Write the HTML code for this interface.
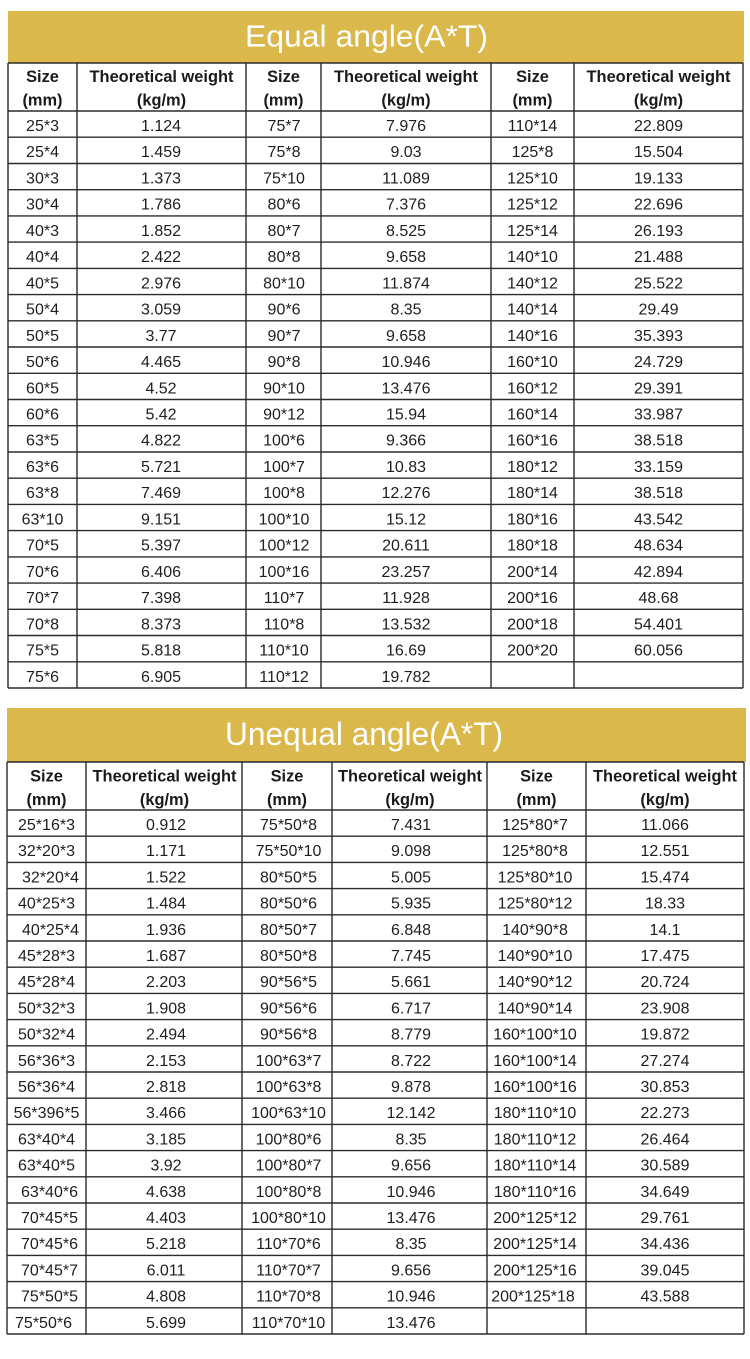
<!DOCTYPE html>
<html>
<head>
<meta charset="utf-8">
<style>
html,body{margin:0;padding:0;background:#fff;}
body{width:750px;height:1359px;overflow:hidden;}
svg{display:block;}
.t{font-family:"Liberation Sans",Arial,sans-serif;font-size:16px;fill:#1e1e1e;}
.h{font-family:"Liberation Sans",Arial,sans-serif;font-size:16.4px;font-weight:bold;fill:#1a1a1a;}
.ttl{font-family:"Liberation Sans",Arial,sans-serif;fill:#fff;}
</style>
</head>
<body>
<svg width="750" height="1359" viewBox="0 0 750 1359" xmlns="http://www.w3.org/2000/svg">
<!-- ===== TABLE 1 ===== -->
<rect x="8" y="11" width="736" height="52" fill="#dbb84b"/>
<text class="ttl" x="245" y="46.7" font-size="31" textLength="243" lengthAdjust="spacingAndGlyphs">Equal angle(A*T)</text>

<g stroke="#2b2b2b" stroke-width="1.4" fill="none">
<path d="M8 63H743M8 111H743M8 137.2H743M8 163.5H743M8 189.7H743M8 215.9H743M8 242.1H743M8 268.4H743M8 294.6H743M8 320.8H743M8 347H743M8 373.3H743M8 399.5H743M8 425.7H743M8 452H743M8 478.2H743M8 504.4H743M8 530.6H743M8 556.9H743M8 583.1H743M8 609.3H743M8 635.5H743M8 661.8H743M8 688H743"/>
<path d="M8 63V688M77 63V688M246 63V688M321 63V688M491 63V688M574 63V688M743 63V688"/>
</g>

<g class="h" text-anchor="middle">
<text x="42.5" y="82">Size</text><text x="42.5" y="105.5">(mm)</text>
<text x="161.5" y="82">Theoretical weight</text><text x="161.5" y="105.5">(kg/m)</text>
<text x="283.5" y="82">Size</text><text x="283.5" y="105.5">(mm)</text>
<text x="406" y="82">Theoretical weight</text><text x="406" y="105.5">(kg/m)</text>
<text x="532.5" y="82">Size</text><text x="532.5" y="105.5">(mm)</text>
<text x="658.5" y="82">Theoretical weight</text><text x="658.5" y="105.5">(kg/m)</text>
</g>

<g class="t" text-anchor="middle">
<g transform="translate(42.5 0)">
<text y="131">25*3</text><text y="157.2">25*4</text><text y="183.5">30*3</text><text y="209.7">30*4</text><text y="235.9">40*3</text><text y="262.1">40*4</text><text y="288.4">40*5</text><text y="314.6">50*4</text><text y="340.8">50*5</text><text y="367">50*6</text><text y="393.3">60*5</text><text y="419.5">60*6</text><text y="445.7">63*5</text><text y="472">63*6</text><text y="498.2">63*8</text><text y="524.4">63*10</text><text y="550.6">70*5</text><text y="576.9">70*6</text><text y="603.1">70*7</text><text y="629.3">70*8</text><text y="655.5">75*5</text><text y="681.8">75*6</text>
</g>
<g transform="translate(161 0)">
<text y="131">1.124</text><text y="157.2">1.459</text><text y="183.5">1.373</text><text y="209.7">1.786</text><text y="235.9">1.852</text><text y="262.1">2.422</text><text y="288.4">2.976</text><text y="314.6">3.059</text><text y="340.8">3.77</text><text y="367">4.465</text><text y="393.3">4.52</text><text y="419.5">5.42</text><text y="445.7">4.822</text><text y="472">5.721</text><text y="498.2">7.469</text><text y="524.4">9.151</text><text y="550.6">5.397</text><text y="576.9">6.406</text><text y="603.1">7.398</text><text y="629.3">8.373</text><text y="655.5">5.818</text><text y="681.8">6.905</text>
</g>
<g transform="translate(284 0)">
<text y="131">75*7</text><text y="157.2">75*8</text><text y="183.5">75*10</text><text y="209.7">80*6</text><text y="235.9">80*7</text><text y="262.1">80*8</text><text y="288.4">80*10</text><text y="314.6">90*6</text><text y="340.8">90*7</text><text y="367">90*8</text><text y="393.3">90*10</text><text y="419.5">90*12</text><text y="445.7">100*6</text><text y="472">100*7</text><text y="498.2">100*8</text><text y="524.4">100*10</text><text y="550.6">100*12</text><text y="576.9">100*16</text><text y="603.1">110*7</text><text y="629.3">110*8</text><text y="655.5">110*10</text><text y="681.8">110*12</text>
</g>
<g transform="translate(406 0)">
<text y="131">7.976</text><text y="157.2">9.03</text><text y="183.5">11.089</text><text y="209.7">7.376</text><text y="235.9">8.525</text><text y="262.1">9.658</text><text y="288.4">11.874</text><text y="314.6">8.35</text><text y="340.8">9.658</text><text y="367">10.946</text><text y="393.3">13.476</text><text y="419.5">15.94</text><text y="445.7">9.366</text><text y="472">10.83</text><text y="498.2">12.276</text><text y="524.4">15.12</text><text y="550.6">20.611</text><text y="576.9">23.257</text><text y="603.1">11.928</text><text y="629.3">13.532</text><text y="655.5">16.69</text><text y="681.8">19.782</text>
</g>
<g transform="translate(532.5 0)">
<text y="131">110*14</text><text y="157.2">125*8</text><text y="183.5">125*10</text><text y="209.7">125*12</text><text y="235.9">125*14</text><text y="262.1">140*10</text><text y="288.4">140*12</text><text y="314.6">140*14</text><text y="340.8">140*16</text><text y="367">160*10</text><text y="393.3">160*12</text><text y="419.5">160*14</text><text y="445.7">160*16</text><text y="472">180*12</text><text y="498.2">180*14</text><text y="524.4">180*16</text><text y="550.6">180*18</text><text y="576.9">200*14</text><text y="603.1">200*16</text><text y="629.3">200*18</text><text y="655.5">200*20</text>
</g>
<g transform="translate(658.5 0)">
<text y="131">22.809</text><text y="157.2">15.504</text><text y="183.5">19.133</text><text y="209.7">22.696</text><text y="235.9">26.193</text><text y="262.1">21.488</text><text y="288.4">25.522</text><text y="314.6">29.49</text><text y="340.8">35.393</text><text y="367">24.729</text><text y="393.3">29.391</text><text y="419.5">33.987</text><text y="445.7">38.518</text><text y="472">33.159</text><text y="498.2">38.518</text><text y="524.4">43.542</text><text y="550.6">48.634</text><text y="576.9">42.894</text><text y="603.1">48.68</text><text y="629.3">54.401</text><text y="655.5">60.056</text>
</g>
</g>

<!-- ===== TABLE 2 ===== -->
<rect x="7" y="708" width="739" height="54" fill="#dbb84b"/>
<text class="ttl" x="225" y="745" font-size="32" textLength="278" lengthAdjust="spacingAndGlyphs">Unequal angle(A*T)</text>

<g stroke="#2b2b2b" stroke-width="1.4" fill="none">
<path d="M7 762H744M7 810H744M7 836.2H744M7 862.4H744M7 888.6H744M7 914.8H744M7 941H744M7 967.2H744M7 993.4H744M7 1019.6H744M7 1045.8H744M7 1072H744M7 1098.2H744M7 1124.4H744M7 1150.6H744M7 1176.8H744M7 1203H744M7 1229.2H744M7 1255.4H744M7 1281.6H744M7 1307.8H744M7 1334H744"/>
<path d="M7 762V1334M86 762V1334M242 762V1334M332 762V1334M487 762V1334M586 762V1334M744 762V1334"/>
</g>

<g class="h" text-anchor="middle">
<text x="46.5" y="781.5">Size</text><text x="46.5" y="805">(mm)</text>
<text x="164.5" y="781.5">Theoretical weight</text><text x="164.5" y="805">(kg/m)</text>
<text x="287" y="781.5">Size</text><text x="287" y="805">(mm)</text>
<text x="410" y="781.5">Theoretical weight</text><text x="410" y="805">(kg/m)</text>
<text x="536.5" y="781.5">Size</text><text x="536.5" y="805">(mm)</text>
<text x="665" y="781.5">Theoretical weight</text><text x="665" y="805">(kg/m)</text>
</g>

<g class="t" text-anchor="middle">
<g transform="translate(46.5 0)">
<text y="830">25*16*3</text><text y="856.2">32*20*3</text><text x="4" y="882.4">32*20*4</text><text y="908.6">40*25*3</text><text x="4" y="934.8">40*25*4</text><text y="961">45*28*3</text><text y="987.2">45*28*4</text><text y="1013.4">50*32*3</text><text y="1039.6">50*32*4</text><text y="1065.8">56*36*3</text><text y="1092">56*36*4</text><text y="1118.2">56*396*5</text><text y="1144.4">63*40*4</text><text y="1170.6">63*40*5</text><text x="3" y="1196.8">63*40*6</text><text x="3" y="1223">70*45*5</text><text x="3" y="1249.2">70*45*6</text><text x="3" y="1275.4">70*45*7</text><text x="3" y="1301.6">75*50*5</text><text x="-3" y="1327.8">75*50*6</text>
</g>
<g transform="translate(166 0)">
<text y="830">0.912</text><text y="856.2">1.171</text><text y="882.4">1.522</text><text y="908.6">1.484</text><text y="934.8">1.936</text><text y="961">1.687</text><text y="987.2">2.203</text><text y="1013.4">1.908</text><text y="1039.6">2.494</text><text y="1065.8">2.153</text><text y="1092">2.818</text><text y="1118.2">3.466</text><text y="1144.4">3.185</text><text y="1170.6">3.92</text><text y="1196.8">4.638</text><text y="1223">4.403</text><text y="1249.2">5.218</text><text y="1275.4">6.011</text><text y="1301.6">4.808</text><text y="1327.8">5.699</text>
</g>
<g transform="translate(288.5 0)">
<text y="830">75*50*8</text><text y="856.2">75*50*10</text><text y="882.4">80*50*5</text><text y="908.6">80*50*6</text><text y="934.8">80*50*7</text><text y="961">80*50*8</text><text y="987.2">90*56*5</text><text y="1013.4">90*56*6</text><text y="1039.6">90*56*8</text><text y="1065.8">100*63*7</text><text y="1092">100*63*8</text><text y="1118.2">100*63*10</text><text y="1144.4">100*80*6</text><text y="1170.6">100*80*7</text><text y="1196.8">100*80*8</text><text y="1223">100*80*10</text><text y="1249.2">110*70*6</text><text y="1275.4">110*70*7</text><text y="1301.6">110*70*8</text><text y="1327.8">110*70*10</text>
</g>
<g transform="translate(411 0)">
<text y="830">7.431</text><text y="856.2">9.098</text><text y="882.4">5.005</text><text y="908.6">5.935</text><text y="934.8">6.848</text><text y="961">7.745</text><text y="987.2">5.661</text><text y="1013.4">6.717</text><text y="1039.6">8.779</text><text y="1065.8">8.722</text><text y="1092">9.878</text><text y="1118.2">12.142</text><text y="1144.4">8.35</text><text y="1170.6">9.656</text><text y="1196.8">10.946</text><text y="1223">13.476</text><text y="1249.2">8.35</text><text y="1275.4">9.656</text><text y="1301.6">10.946</text><text y="1327.8">13.476</text>
</g>
<g transform="translate(535 0)">
<text y="830">125*80*7</text><text y="856.2">125*80*8</text><text y="882.4">125*80*10</text><text y="908.6">125*80*12</text><text y="934.8">140*90*8</text><text y="961">140*90*10</text><text y="987.2">140*90*12</text><text y="1013.4">140*90*14</text><text y="1039.6">160*100*10</text><text y="1065.8">160*100*14</text><text y="1092">160*100*16</text><text y="1118.2">180*110*10</text><text y="1144.4">180*110*12</text><text y="1170.6">180*110*14</text><text y="1196.8">180*110*16</text><text y="1223">200*125*12</text><text y="1249.2">200*125*14</text><text y="1275.4">200*125*16</text><text x="-2" y="1301.6">200*125*18</text>
</g>
<g transform="translate(665 0)">
<text y="830">11.066</text><text y="856.2">12.551</text><text y="882.4">15.474</text><text y="908.6">18.33</text><text y="934.8">14.1</text><text y="961">17.475</text><text y="987.2">20.724</text><text y="1013.4">23.908</text><text y="1039.6">19.872</text><text y="1065.8">27.274</text><text y="1092">30.853</text><text y="1118.2">22.273</text><text y="1144.4">26.464</text><text y="1170.6">30.589</text><text y="1196.8">34.649</text><text y="1223">29.761</text><text y="1249.2">34.436</text><text y="1275.4">39.045</text><text y="1301.6">43.588</text>
</g>
</g>
</svg>
</body>
</html>
